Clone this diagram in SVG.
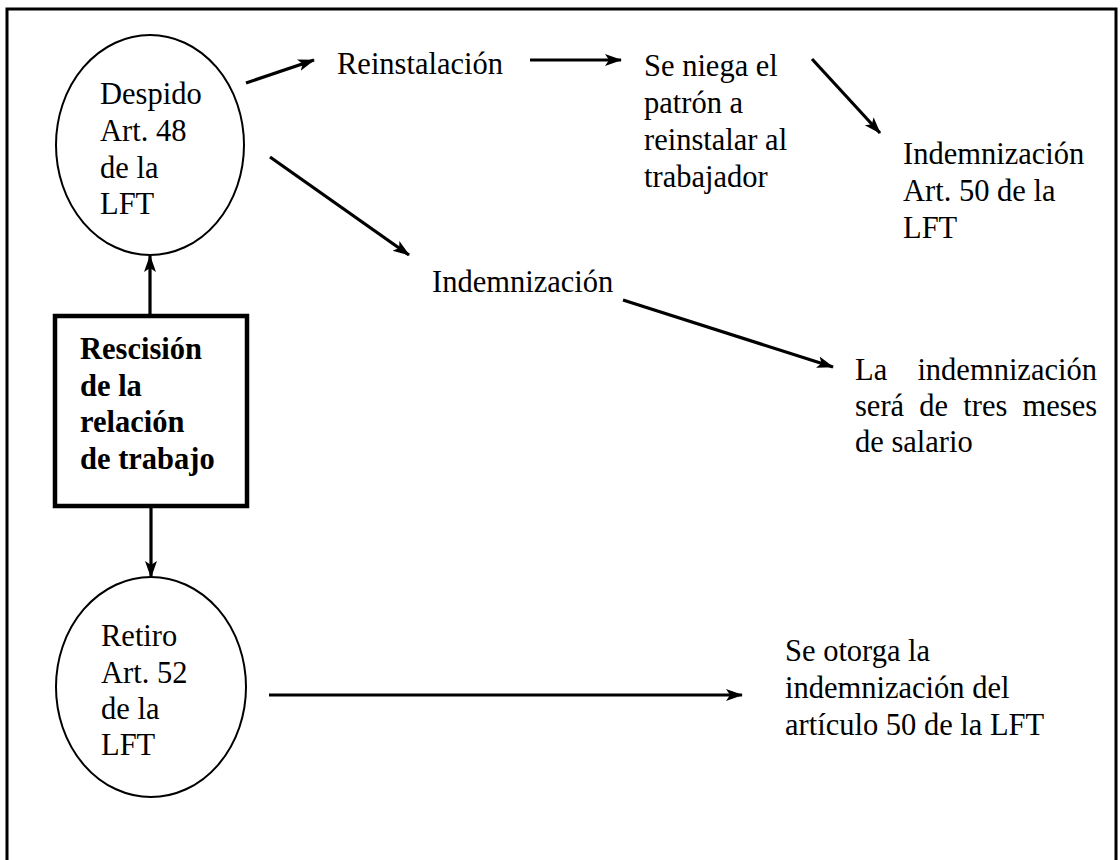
<svg xmlns="http://www.w3.org/2000/svg" width="1120" height="860" viewBox="0 0 1120 860">
<defs>
<marker id="ah" markerUnits="userSpaceOnUse" markerWidth="18" markerHeight="14" refX="16" refY="7" orient="auto">
<path d="M0,1 L17,7 L0,13 L4,7 Z" fill="#000"/>
</marker>
<style>
.t{font-family:"Liberation Serif","Times New Roman",serif;font-size:30.5px;fill:#000}
.b{font-weight:bold}
.node{fill:#fff;stroke:#000;stroke-width:2}
.box{fill:#fff;stroke:#000;stroke-width:4.5}
.c{fill:none;stroke:#000;stroke-width:3.2;marker-end:url(#ah)}
</style>
</defs>
<rect width="1120" height="860" fill="#fff"/>
<path d="M7,860 V9 H1116 V860" fill="none" stroke="#000" stroke-width="3"/>
<g id="connectors">
<line class="c" x1="150" y1="316" x2="150" y2="256"/>
<line class="c" x1="151" y1="506" x2="151" y2="577"/>
<line class="c" x1="246" y1="83" x2="314" y2="60"/>
<line class="c" x1="270" y1="157" x2="409" y2="255"/>
<line class="c" x1="530" y1="60" x2="621" y2="60"/>
<line class="c" x1="812" y1="59" x2="880" y2="133"/>
<line class="c" x1="623" y1="300" x2="833" y2="367"/>
<line class="c" x1="269" y1="695" x2="742" y2="695"/>
</g>
<g id="despido">
<ellipse class="node" cx="150" cy="145" rx="94" ry="110"/>
<text class="t"><tspan x="100" y="104">Despido</tspan><tspan x="100" y="141">Art. 48</tspan><tspan x="100" y="178">de la</tspan><tspan x="100" y="214">LFT</tspan></text>
</g>
<g id="rescision">
<rect class="box" x="55" y="316" width="192" height="190"/>
<text class="t b"><tspan x="80" y="359">Rescisión</tspan><tspan x="80" y="396">de la</tspan><tspan x="80" y="432">relación</tspan><tspan x="80" y="469">de trabajo</tspan></text>
</g>
<g id="retiro">
<ellipse class="node" cx="151" cy="687" rx="95" ry="110"/>
<text class="t"><tspan x="101" y="646">Retiro</tspan><tspan x="101" y="683">Art. 52</tspan><tspan x="101" y="719">de la</tspan><tspan x="101" y="755">LFT</tspan></text>
</g>
<g id="reinstalacion">
<text class="t" x="337" y="74">Reinstalación</text>
</g>
<g id="se-niega">
<text class="t"><tspan x="644" y="76">Se niega el</tspan><tspan x="644" y="113">patrón a</tspan><tspan x="644" y="150">reinstalar al</tspan><tspan x="644" y="187">trabajador</tspan></text>
</g>
<g id="indemnizacion-art50">
<text class="t"><tspan x="903" y="164">Indemnización</tspan><tspan x="903" y="201">Art. 50 de la</tspan><tspan x="903" y="238">LFT</tspan></text>
</g>
<g id="indemnizacion">
<text class="t" x="432" y="292">Indemnización</text>
</g>
<g id="tres-meses">
<text class="t"><tspan x="855" y="380">La</tspan><tspan x="917.4" y="380">indemnización</tspan><tspan x="855" y="416">será</tspan><tspan x="919.3" y="416">de</tspan><tspan x="963.3" y="416">tres</tspan><tspan x="1022.5" y="416">meses</tspan><tspan x="855" y="452">de salario</tspan></text>
</g>
<g id="se-otorga">
<text class="t"><tspan x="785" y="661">Se otorga la</tspan><tspan x="785" y="698">indemnización del</tspan><tspan x="785" y="735">artículo 50 de la LFT</tspan></text>
</g>
</svg>
